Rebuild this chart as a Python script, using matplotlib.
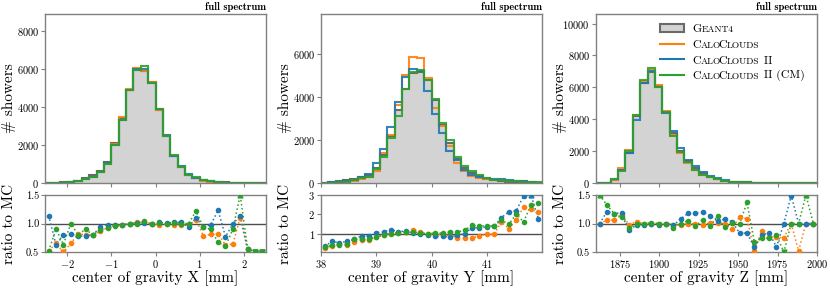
import numpy as np
import matplotlib.pyplot as plt
from matplotlib.patches import Patch
from matplotlib.lines import Line2D
from matplotlib.ticker import FormatStrFormatter

plt.rcParams['font.family'] = 'cmr10'
plt.rcParams['mathtext.fontset'] = 'cm'
plt.rcParams['axes.formatter.use_mathtext'] = True

# center of gravity X, 30 bins from -2.5 to 2.5 mm
geant_x = [5, 10, 30, 60, 120, 250, 400, 640, 1090, 2100, 3400, 4880, 5960, 5910, 5310,
           3860, 2490, 1440, 860, 430, 265, 150, 90, 50, 30, 20, 12, 8, 5, 3]
orange_x = [3, 5, 15, 40, 100, 200, 320, 560, 1000, 2060, 3480, 4950, 6080, 5900, 5300,
            3850, 2460, 1420, 850, 420, 270, 120, 75, 42, 20, 13, 13, 4, 3, 2]
blue_x = [6, 6, 24, 49, 94, 195, 320, 600, 1070, 2020, 3300, 4880, 6020, 6000, 5270,
          3920, 2540, 1430, 880, 470, 250, 150, 88, 62, 23, 20, 14, 4, 3, 2]
green_x = [3, 9, 19, 60, 96, 225, 320, 580, 1000, 2000, 3300, 4880, 5960, 6150, 5280,
           3880, 2490, 1450, 860, 430, 320, 140, 81, 34, 18, 18, 18, 4, 2, 1]
ratio_x_orange = [0.52, 0.65, 0.40, 0.65, 0.82, 0.80, 0.80, 0.86, 0.93, 0.97, 0.98, 1.00, 1.02, 1.02, 1.00,
                  0.98, 0.99, 0.97, 0.98, 0.97, 1.07, 0.78, 0.81, 0.82, 0.62, 0.64, 1.10, 0.55, 0.40, 0.40]
ratio_x_blue = [1.14, 0.62, 0.80, 0.81, 0.78, 0.78, 0.80, 0.94, 0.98, 0.98, 0.97, 1.00, 1.01, 1.01, 0.99,
                1.02, 1.01, 1.02, 1.02, 0.94, 1.10, 0.94, 0.98, 1.23, 0.77, 0.99, 1.14, 0.55, 0.40, 0.40]
ratio_x_green = [0.52, 0.90, 0.63, 1.00, 0.80, 0.90, 0.80, 0.89, 0.92, 0.95, 0.97, 1.00, 1.00, 1.04, 0.99,
                 1.01, 1.00, 1.01, 1.00, 1.00, 1.22, 0.93, 0.90, 0.67, 0.60, 0.90, 1.60, 0.56, 0.40, 0.40]

# center of gravity Y, 30 bins from 38 to 42 mm
geant_y = [15, 40, 80, 130, 200, 300, 390, 690, 1310, 2160, 3400, 4350, 5090, 5150, 4780,
           3860, 2700, 1850, 1130, 690, 460, 310, 200, 140, 95, 65, 45, 30, 18, 10]
orange_y = [5, 15, 35, 50, 115, 195, 270, 570, 1390, 2240, 3630, 5020, 5860, 5790, 4860,
            3470, 2650, 1700, 930, 540, 310, 240, 170, 120, 150, 80, 75, 70, 40, 20]
blue_y = [5, 24, 42, 78, 140, 265, 440, 930, 1570, 2590, 3780, 4910, 5280, 5200, 4290,
          3210, 2320, 1470, 1080, 620, 390, 280, 240, 190, 170, 140, 100, 90, 60, 18]
green_y = [5, 16, 34, 62, 140, 220, 280, 670, 1200, 2080, 3120, 4350, 5170, 5250, 4780,
           3890, 2780, 2010, 1210, 770, 540, 350, 240, 160, 140, 100, 90, 50, 45, 26]
ratio_y_orange = [0.27, 0.36, 0.44, 0.39, 0.57, 0.65, 0.69, 0.83, 0.95, 1.03, 1.05, 1.09, 1.21, 1.09, 1.00,
                  0.97, 0.95, 0.88, 0.79, 0.77, 0.77, 0.90, 0.97, 0.97, 1.61, 1.26, 1.70, 2.39, 2.25, 2.13]
ratio_y_blue = [0.34, 0.60, 0.53, 0.60, 0.70, 0.88, 0.88, 1.05, 1.09, 1.21, 1.10, 1.14, 1.03, 1.00, 0.95,
                0.86, 0.86, 0.83, 0.91, 1.00, 1.31, 1.30, 1.35, 1.38, 1.83, 2.13, 2.18, 2.95, 3.30, 1.78]
ratio_y_green = [0.30, 0.39, 0.43, 0.48, 0.70, 0.74, 0.70, 0.83, 0.91, 1.00, 1.05, 1.09, 1.09, 1.03, 1.00,
                 1.03, 1.03, 1.09, 1.09, 1.17, 1.43, 1.40, 1.40, 1.40, 1.70, 1.49, 2.00, 1.61, 2.48, 2.57]

# center of gravity Z, 30 bins from 1860 to 2000 mm
geant_z = [2, 10, 200, 790, 1880, 4180, 6280, 6950, 6100, 4480, 3140, 2030, 1360, 940, 600,
           400, 250, 150, 85, 60, 40, 30, 25, 20, 15, 12, 10, 8, 5, 4]
orange_z = [2, 11, 212, 910, 2090, 4290, 6400, 7110, 6170, 4540, 3030, 1880, 1240, 820, 520,
            400, 270, 130, 75, 55, 20, 15, 20, 16, 11, 9, 10, 4, 5, 4]
blue_z = [2, 12, 240, 840, 1870, 3930, 6250, 7000, 6000, 4420, 3240, 2180, 1460, 1050, 670,
          420, 290, 170, 90, 50, 33, 17, 20, 17, 9, 12, 15, 8, 5, 4]
green_z = [3, 13, 235, 730, 1990, 4250, 6480, 7220, 6030, 4440, 2930, 1950, 1300, 820, 520,
           400, 260, 130, 86, 60, 55, 20, 19, 15, 12, 5, 10, 8, 8, 4]
ratio_z_orange = [1.00, 1.06, 1.06, 1.15, 0.98, 1.03, 1.00, 1.00, 1.00, 1.00, 0.97, 0.98, 1.00, 1.00, 0.97,
                  1.01, 1.01, 1.00, 0.91, 1.12, 1.08, 0.52, 0.87, 0.77, 0.76, 0.75, 1.00, 0.52, 1.00, 1.00]
ratio_z_blue = [1.00, 1.21, 1.17, 1.19, 0.89, 0.97, 0.98, 0.99, 0.98, 1.00, 0.97, 1.08, 1.18, 1.18, 1.20,
                1.14, 1.04, 1.08, 1.03, 0.83, 0.83, 0.58, 0.80, 0.83, 0.59, 1.00, 1.49, 1.00, 1.00, 1.00]
ratio_z_green = [1.60, 1.32, 1.17, 1.11, 0.92, 1.00, 1.00, 1.01, 1.00, 1.00, 0.92, 1.00, 1.05, 0.95, 1.07,
                 0.96, 1.13, 0.93, 1.01, 1.00, 1.37, 0.67, 0.74, 0.74, 0.79, 0.40, 1.00, 1.00, 1.60, 1.00]

panels = [
    dict(lo=-2.5, hi=2.5, hists=(geant_x, orange_x, blue_x, green_x),
         ratios=(ratio_x_orange, ratio_x_blue, ratio_x_green),
         ytop=8900, yticks=[0, 2000, 4000, 6000, 8000], rlim=(0.5, 1.5), rticks=[0.5, 1.0, 1.5],
         xticks=[-2, -1, 0, 1, 2], xlabel='center of gravity X [mm]'),
    dict(lo=38, hi=42, hists=(geant_y, orange_y, blue_y, green_y),
         ratios=(ratio_y_orange, ratio_y_blue, ratio_y_green),
         ytop=7840, yticks=[0, 2000, 4000, 6000], rlim=(0.05, 3), rticks=[1, 2, 3],
         xticks=[38, 39, 40, 41], xlabel='center of gravity Y [mm]'),
    dict(lo=1860, hi=2000, hists=(geant_z, orange_z, blue_z, green_z),
         ratios=(ratio_z_orange, ratio_z_blue, ratio_z_green),
         ytop=10600, yticks=[0, 2000, 4000, 6000, 8000, 10000], rlim=(0.5, 1.5),
         rticks=[0.5, 1.0, 1.5], xticks=[1875, 1900, 1925, 1950, 1975, 2000],
         xlabel='center of gravity Z [mm]'),
]

colors = ['tab:orange', 'tab:blue', 'tab:green']
spine_col = '0.5'

fig = plt.figure(figsize=(8.3, 2.91), dpi=100)
lefts = [45 / 830, 321 / 830, 596 / 830]
w = 221 / 830

for i, p in enumerate(panels):
    ax = fig.add_axes([lefts[i], 108 / 291, w, 169 / 291])
    rax = fig.add_axes([lefts[i], 39 / 291, w, 57 / 291])
    edges = np.linspace(p['lo'], p['hi'], len(p['hists'][0]) + 1)
    centers = 0.5 * (edges[:-1] + edges[1:])

    g = p['hists'][0]
    ax.stairs(g, edges, fill=True, color='lightgray')
    ax.stairs(g, edges, color='dimgray', lw=1.5)
    for vals, c in zip(p['hists'][1:], colors):
        ax.stairs(vals, edges, color=c, lw=1.5, alpha=0.9)
    ax.set_xlim(p['lo'], p['hi'])
    ax.set_ylim(0, p['ytop'])
    ax.set_yticks(p['yticks'])
    ax.set_xticks(p['xticks'])
    ax.tick_params(labelbottom=False)
    ax.set_ylabel('# showers', fontsize=11)
    ax.text(1.0, 1.012, 'full spectrum', transform=ax.transAxes, ha='right', va='bottom',
            fontfamily='cmb10', fontsize=7.5)

    lo, hi = p['rlim']
    rax.axhline(1, color='0.3', lw=1, zorder=1)
    for r, c in zip(p['ratios'], colors):
        r = np.array(r)
        rc = np.clip(r, lo, hi)
        rax.plot(centers, rc, ls=':', color=c, lw=1.1, zorder=2)
        ok = (r >= lo) & (r <= hi)
        rax.plot(centers[ok], rc[ok], 'o', color=c, ms=3, zorder=3)
        rax.plot(centers[r > hi], rc[r > hi], '^', color=c, ms=3.5, zorder=3)
        rax.plot(centers[r < lo], rc[r < lo], 'v', color=c, ms=3.5, zorder=3)
    rax.set_xlim(p['lo'], p['hi'])
    rax.set_ylim(lo, hi)
    rax.set_yticks(p['rticks'])
    if i != 1:
        rax.yaxis.set_major_formatter(FormatStrFormatter('%.1f'))
    rax.set_xticks(p['xticks'])
    rax.set_xlabel(p['xlabel'], fontsize=11, labelpad=0)
    rax.set_ylabel('ratio to MC', fontsize=11)

    for a in (ax, rax):
        for s in a.spines.values():
            s.set_color(spine_col)
            s.set_linewidth(1.0)
        a.tick_params(labelsize=7.5, length=2.8, width=0.8, color=spine_col, pad=1.5)
        a.yaxis.set_label_coords(-0.13, 0.5)

    if i == 2:
        handles = [Patch(facecolor='lightgray', edgecolor='dimgray', lw=1.5),
                   Line2D([], [], color=colors[0], lw=1.5),
                   Line2D([], [], color=colors[1], lw=1.5),
                   Line2D([], [], color=colors[2], lw=1.5)]
        parts = [['G', 'EANT4'],
                 ['C', 'ALO', 'C', 'LOUDS'],
                 ['C', 'ALO', 'C', 'LOUDS', ' II'],
                 ['C', 'ALO', 'C', 'LOUDS', ' II (CM)']]
        leg = ax.legend(handles, [pp[0] for pp in parts], loc='upper left',
                        bbox_to_anchor=(0.29, 0.94), frameon=False, fontsize=8.5,
                        handlelength=2.0, handletextpad=0.75, labelspacing=0.45,
                        borderaxespad=0, borderpad=0)
        for t, pp in zip(leg.get_texts(), parts):
            prev = t
            for k, s in enumerate(pp[1:]):
                small = (k % 2 == 0)
                shift = -2.0 if (k == 1) else 0.0
                prev = ax.annotate(s, xy=(1, 0), xycoords=prev, xytext=(shift, 0),
                                   textcoords='offset points', va='bottom', ha='left',
                                   fontsize=6.8 if small else 8.5, zorder=6)

fig.savefig('out.png', dpi=100)
